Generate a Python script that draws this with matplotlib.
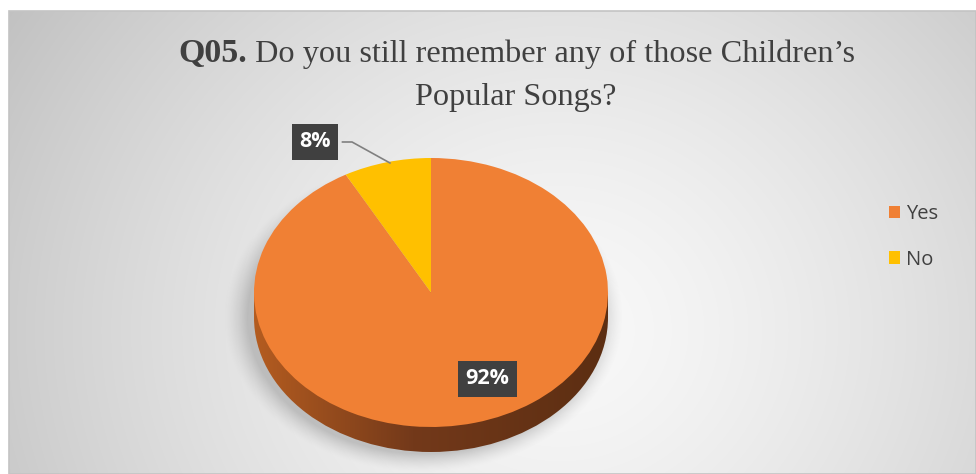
import matplotlib
matplotlib.use("Agg")
import matplotlib.pyplot as plt
import numpy as np
from matplotlib.colors import LinearSegmentedColormap
from matplotlib.patches import Rectangle, Circle

labels = ['Yes', 'No']
shares = [92, 8]
colors = ['#F08034', '#FFC000']
title_bold = 'Q05.'
title_line1 = ' Do you still remember any of those Children\u2019s'
title_line2 = 'Popular Songs?'

W, H = 976, 474
fig = plt.figure(figsize=(W / 100, H / 100), dpi=100)
fig.patch.set_facecolor('white')

# background panel in pixel coordinates
bg = fig.add_axes([0, 0, 1, 1])
bg.set_xlim(0, W)
bg.set_ylim(H, 0)
bg.axis('off')

yy, xx = np.mgrid[11:H, 9:W].astype(float)
d = np.hypot(xx - 560, (yy - 330) * 1.1) / 640
shade = 0.975 - 0.21 * np.clip(d, 0, 1.2) ** 1.4
rgb = np.dstack([shade] * 3)
bg.imshow(rgb, extent=(9, W, H, 11), aspect='auto', zorder=0,
          interpolation='bilinear')
bg.add_patch(Rectangle((9, 11), W - 9, H - 11, fill=False,
                       edgecolor='#c4c4c4', lw=1.2, zorder=1))

# soft shadow under the pie
sr = np.hypot((xx - 423) / 187, (yy - 316) / 146)
alpha = 0.36 * np.clip((1.07 - sr) / 0.13, 0, 1) ** 1.5
shadow = np.zeros(sr.shape + (4,))
shadow[..., :3] = 0.45
shadow[..., 3] = alpha
bg.imshow(shadow, extent=(9, W, H, 11), aspect='auto', zorder=1,
          interpolation='bilinear')

# pie axes: x -> [-1.05, 1.05], circle of radius 1 is 177 px wide, 134.5 px tall
cx, cy, rx, ry = 431, 292.5, 177, 134.5
x0, x1 = -1.05, 1.05
p_top, p_bot = 140, 465
ax = fig.add_axes([(cx + x0 * rx) / W, (H - p_bot) / H,
                   (x1 - x0) * rx / W, (p_bot - p_top) / H])
ax.patch.set_alpha(0)

depth = 25 / ry
side_cmap = LinearSegmentedColormap.from_list(
    'side', [(0, '#B45C20'), (0.45, '#73391A'), (1, '#5C2E12')])
grad = np.tile(np.linspace(0, 1, 256), (8, 1))
clip_shapes = [Circle((0, -depth), 1, transform=ax.transData),
               Rectangle((-1, -depth), 2, depth, transform=ax.transData)]
for shape in clip_shapes:
    im = ax.imshow(grad, cmap=side_cmap, extent=(-1, 1, -1 - depth, 0),
                   aspect='auto', zorder=1)
    im.set_clip_path(shape)

wedges, _ = ax.pie(shares, colors=colors, startangle=90, counterclock=False,
                   wedgeprops=dict(linewidth=0), radius=1)
for w in wedges:
    w.set_zorder(2)

ax.set_aspect('auto')
ax.set_xlim(x0, x1)
ax.set_ylim((cy - p_bot) / ry, (cy - p_top) / ry)
ax.axis('off')

# data labels
box = dict(boxstyle='square,pad=0.35', facecolor='#404040', edgecolor='none')
lab_font = dict(family=['Open Sans', 'DejaVu Sans'], weight='bold',
                fontsize=15.5, color='white', ha='center', va='center', zorder=5)
ax.text(0.32, -0.64, f'{shares[0]}%', bbox=box, clip_on=False, **lab_font)
ax.text(-0.655, 1.119, f'{shares[1]}%', bbox=box, clip_on=False, **lab_font)
ax.plot([-0.50, -0.446, -0.232], [1.119, 1.119, 0.963], color='#808080',
        lw=1.2, clip_on=False, zorder=4)

# legend
leg = ax.legend(wedges, labels, loc='center left',
                bbox_to_anchor=(871 / W, (H - 237) / H),
                bbox_transform=fig.transFigure, frameon=False,
                handlelength=0.55, handleheight=0.55, handletextpad=0.3,
                labelspacing=1.25,
                prop=dict(family=['Open Sans', 'DejaVu Sans'], size=14.5))
for t in leg.get_texts():
    t.set_color('#404040')

# title: bold question number followed by regular text
serif = ['Liberation Serif', 'DejaVu Serif']
fig.canvas.draw()
r = fig.canvas.get_renderer()
tb = bg.text(0, 62, title_bold, family=serif, weight='bold', fontsize=24.5,
             color='#404040', va='baseline')
tr = bg.text(0, 62, title_line1, family=serif, fontsize=23.2, color='#404040',
             va='baseline')
wb = tb.get_window_extent(r).width
wr = tr.get_window_extent(r).width
start = 517 - (wb + wr) / 2
tb.set_x(start)
tr.set_x(start + wb)
bg.text(516, 105, title_line2, family=serif, fontsize=23.2, color='#404040',
        ha='center', va='baseline')

fig.savefig('out.png', dpi=100)
